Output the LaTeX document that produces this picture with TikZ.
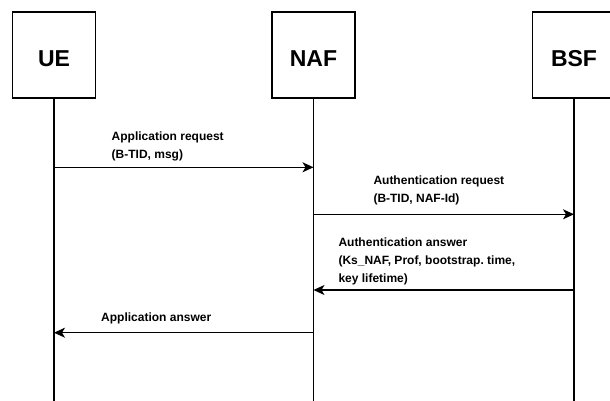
\documentclass[tikz,border=0pt]{standalone}
\usepackage{fontspec}
\setmainfont{Liberation Sans}
\usetikzlibrary{arrows.meta}
\frenchspacing
\begin{document}
\begin{tikzpicture}[x=1pt,y=-1pt,
  entity/.style={draw,line width=1.2pt,minimum width=83pt,minimum height=86pt,
    inner sep=0pt,font=\fontsize{23}{23}\bfseries,text height=23.4pt,text depth=0pt},
  lifeline/.style={line width=1.2pt},
  msg/.style={line width=1.2pt,-{Stealth[length=11pt,width=10pt,inset=3pt]}},
  msglabel/.style={anchor=north west,inner sep=0pt,align=left,
    font=\fontsize{12}{18}\bfseries}]
\useasboundingbox (0,0) rectangle (610,401);

% participants
\node[entity] (ue)  at (54,55)  {UE};
\node[entity] (naf) at (313.5,55) {NAF};
\node[entity] (bsf) at (574,55) {BSF};

% lifelines
\coordinate (ue-end)  at (ue.south |- 0,401);
\coordinate (naf-end) at (naf.south |- 0,401);
\coordinate (bsf-end) at (bsf.south |- 0,401);
\draw[lifeline] (ue.south) -- (ue-end);
\draw[lifeline] (naf.south) -- (naf-end);
\draw[lifeline] (bsf.south) -- (bsf-end);

% message end points on the lifelines
\coordinate (ue1)  at (ue.south  |- 0,167.3);
\coordinate (naf1) at (naf.south |- 0,167.3);
\coordinate (naf2) at (naf.south |- 0,214.3);
\coordinate (bsf2) at (bsf.south |- 0,214.3);
\coordinate (bsf3) at (bsf.south |- 0,290);
\coordinate (naf3) at (naf.south |- 0,290);
\coordinate (naf4) at (naf.south |- 0,332.7);
\coordinate (ue4)  at (ue.south  |- 0,332.7);

% messages
\draw[msg] (ue1) -- (naf1);
\draw[msg] (naf2) -- (bsf2);
\draw[msg] (bsf3) -- (naf3);
\draw[msg] (naf4) -- (ue4);

% message labels
\node[msglabel] (l1) at (111.5,131.3) {Application request\\(B-TID, msg)};
\node[msglabel] (l2) at (373.3,175.7) {Authentication request\\(B-TID, NAF-Id)};
\node[msglabel] (l3) at (338.3,237.7) {Authentication answer\\(Ks\_NAF, Prof, bootstrap. time,\\key lifetime)};
\node[msglabel] (l4) at (101,312.3) {Application answer};
\end{tikzpicture}
\end{document}
